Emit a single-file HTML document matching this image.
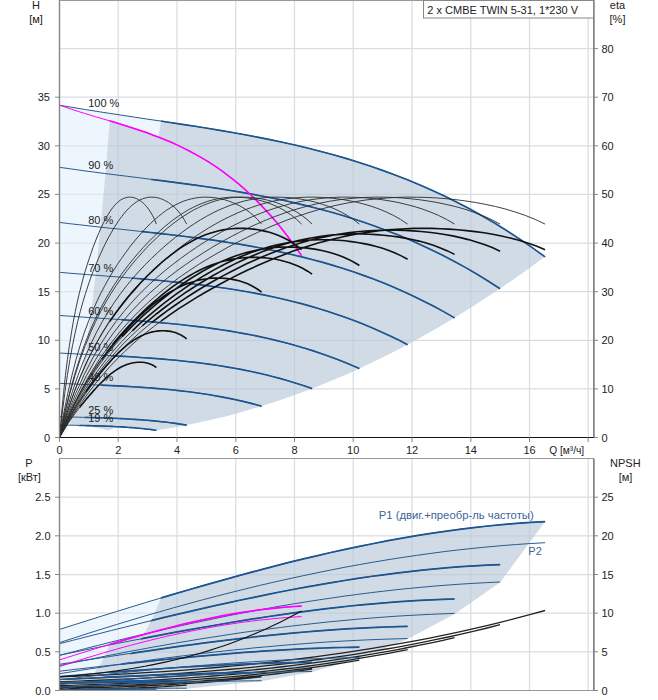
<!DOCTYPE html>
<html><head><meta charset="utf-8"><style>
html,body{margin:0;padding:0;background:#fff;width:658px;height:700px;overflow:hidden}
svg{display:block}
text{font-family:"Liberation Sans",sans-serif;font-size:11px;fill:#222}
</style></head><body>
<svg width="658" height="700" viewBox="0 0 658 700">
<path d="M118.2,0.5V437.5M118.2,458.5V690.5M177,0.5V437.5M177,458.5V690.5M235.8,0.5V437.5M235.8,458.5V690.5M294.5,0.5V437.5M294.5,458.5V690.5M353.2,0.5V437.5M353.2,458.5V690.5M412,0.5V437.5M412,458.5V690.5M470.8,0.5V437.5M470.8,458.5V690.5M529.5,0.5V437.5M529.5,458.5V690.5M588.2,0.5V437.5M588.2,458.5V690.5M59.5,388.9H593.5M59.5,340.3H593.5M59.5,291.7H593.5M59.5,243.1H593.5M59.5,194.4H593.5M59.5,145.8H593.5M59.5,97.2H593.5M59.5,48.6H593.5M59.5,651.8H593.5M59.5,613.2H593.5M59.5,574.5H593.5M59.5,535.8H593.5M59.5,497.2H593.5" stroke="#D9DDE0" stroke-width="1.25" fill="none"/>
<path d="M59.5,105.2 63.7,105.9 68,106.6 72.2,107.4 76.4,108.1 80.6,108.8 84.9,109.5 89.1,110.1 93.3,110.8 97.6,111.5 101.8,112.2 106,112.8 110.2,113.5 114.5,114.1 118.7,114.8 122.9,115.4 127.2,116 131.4,116.7 135.6,117.3 139.8,117.9 144.1,118.6 148.3,119.2 152.5,119.8 156.8,120.4 161,121.1 161,121.1 160.3,125.1 159.7,129.1 159,133.1 158.4,137.1 158.4,137.1 154.9,135.7 151.4,134.4 148,133.2 144.5,132 141,130.8 137.5,129.6 134.1,128.4 130.6,127.3 127.1,126.2 123.6,125.1 120.2,124.1 116.7,123 113.2,122 109.7,120.9 109.7,120.9 108,142.2 106.3,162.7 104.6,182.4 102.9,201.5 101.2,219.8 99.4,237.3 97.7,254.1 96,270.2 94.3,285.6 92.6,300.2 90.9,314 89.2,327.2 87.4,339.6 85.7,351.2 84,362.1 82.3,372.3 80.6,381.7 78.9,390.4 77.2,398.4 75.4,405.6 73.7,412.1 72,417.9 70.3,422.9 68.6,427.2 66.9,430.7 65.1,433.5 63.4,435.6 61.7,436.9 60,437.5Z" fill="rgba(222,236,251,0.55)"/>
<path d="M109.7,120.9 113.2,122 116.7,123 120.2,124.1 123.6,125.1 127.1,126.2 130.6,127.3 134.1,128.4 137.5,129.6 141,130.8 144.5,132 148,133.2 151.4,134.4 154.9,135.7 158.4,137.1 158.4,137.1 159,133.1 159.7,129.1 160.3,125.1 161,121.1 161,121.1 168.8,122.3 176.7,123.4 184.5,124.6 192.3,125.9 200.2,127.1 208,128.4 215.9,129.6 223.7,131 231.5,132.3 239.4,133.7 247.2,135.2 255.1,136.6 262.9,138.2 270.7,139.8 278.6,141.4 286.4,143.1 294.2,144.9 302.1,146.7 309.9,148.6 317.8,150.6 325.6,152.7 333.4,154.8 341.3,157 349.1,159.4 356.9,161.8 364.8,164.3 372.6,166.9 380.5,169.6 388.3,172.4 396.1,175.3 404,178.4 411.8,181.5 419.7,184.8 427.5,188.2 435.3,191.8 443.2,195.4 451,199.2 458.8,203.2 466.7,207.3 474.5,211.5 482.4,215.9 490.2,220.4 498,225.1 505.9,230 513.7,235 521.6,240.2 529.4,245.5 537.2,251.1 545.1,256.8 545.1,256.6 531.7,266.4 518.3,276 504.9,285.3 491.5,294.3 478.1,303.1 464.7,311.5 451.3,319.7 437.9,327.7 424.5,335.3 411.1,342.7 397.7,349.8 384.3,356.6 370.9,363.1 357.5,369.4 344.1,375.4 330.7,381.1 317.3,386.5 303.8,391.7 290.4,396.6 277,401.2 263.6,405.5 250.2,409.6 236.8,413.4 223.4,416.9 210,420.1 196.6,423.1 183.2,425.8 169.8,428.2 156.4,430.3 156.4,430.3 153,429.8 149.6,429.4 146.1,429 142.7,428.7 139.3,428.3 135.8,428 132.4,427.7 128.9,427.4 125.5,427.2 122.1,427 118.6,426.8 118.6,426.8 116,427.7 113.3,428.6 110.6,429.5 108,430.3 108,430.3 103.7,429.2 99.4,428.3 95.1,427.6 90.8,427 86.5,426.5 82.2,426.1 77.9,425.8 73.5,425.6 69.2,425.4 69.2,425.6 70.9,421.1 72.6,415.9 74.3,410 76,403.4 77.7,396 79.4,388 81.1,379.2 82.7,369.7 84.4,359.5 86.1,348.6 87.8,337 89.5,324.7 91.2,311.6 92.9,297.9 94.5,283.4 96.2,268.2 97.9,252.3 99.6,235.6 101.3,218.3 103,200.3 104.7,181.5 106.4,162 108,141.8 109.7,120.9Z" fill="rgba(184,200,217,0.66)"/>
<path d="M59.5,629.4 63.7,628 68,626.7 72.2,625.4 76.4,624 80.6,622.7 84.9,621.4 89.1,620 93.3,618.7 97.6,617.4 101.8,616.1 106,614.8 110.2,613.4 114.5,612.1 118.7,610.8 122.9,609.5 127.2,608.2 131.4,606.9 135.6,605.6 139.8,604.3 144.1,603.1 148.3,601.8 152.5,600.5 156.8,599.2 161,598 161,598 157.5,606.4 154.1,614.2 150.6,621.5 147.1,628.3 143.7,634.6 143.7,634.6 140.6,635.4 137.5,636.3 134.4,637.2 131.3,638 128.2,638.9 125.2,639.8 122.1,640.7 119,641.6 115.9,642.5 112.8,643.5 109.7,644.4 109.7,644.4 107.7,649.4 105.6,654 103.5,658.3 101.4,662.1 99.4,665.6 97.3,668.7 95.2,671.6 93.2,674.1 91.1,676.3 89,678.2 86.9,679.9 84.9,681.4 82.8,682.6 80.7,683.6 78.7,684.5 76.6,685.2 74.5,685.7 72.4,686.1 70.4,686.4 68.3,686.6 66.2,686.7 64.1,686.8 62.1,686.8 60,686.8 59.5,690.5Z" fill="rgba(222,236,251,0.55)"/>
<path d="M109.7,644.4 112.8,643.5 115.9,642.5 119,641.6 122.1,640.7 125.2,639.8 128.2,638.9 131.3,638 134.4,637.2 137.5,636.3 140.6,635.4 143.7,634.6 143.7,634.6 147.1,628.3 150.6,621.5 154.1,614.2 157.5,606.4 161,598 161,598 168.8,595.6 176.7,593.3 184.5,591 192.3,588.7 200.2,586.4 208,584.2 215.9,582 223.7,579.8 231.5,577.6 239.4,575.4 247.2,573.3 255.1,571.2 262.9,569.1 270.7,567.1 278.6,565.1 286.4,563.1 294.2,561.2 302.1,559.3 309.9,557.4 317.8,555.5 325.6,553.7 333.4,551.9 341.3,550.2 349.1,548.5 356.9,546.9 364.8,545.2 372.6,543.7 380.5,542.1 388.3,540.7 396.1,539.2 404,537.8 411.8,536.5 419.7,535.2 427.5,533.9 435.3,532.7 443.2,531.6 451,530.5 458.8,529.4 466.7,528.4 474.5,527.5 482.4,526.6 490.2,525.8 498,525 505.9,524.3 513.7,523.6 521.6,523 529.4,522.5 537.2,522 545.1,521.6 500.1,582.5 454.6,613.9 407.6,639 359.4,658 312.1,672 261.6,681.2 186.7,688.7 156.4,689.9 156.4,689.9 147.8,689.9 139.2,690 130.6,690 122,690.1 113.4,690.1 104.7,690.2 96.1,690.3 87.5,690.3 78.9,690.4 69.2,686.5 70.9,686.3 72.6,686.1 74.3,685.7 76,685.3 77.7,684.8 79.4,684.2 81.1,683.5 82.7,682.6 84.4,681.6 86.1,680.5 87.8,679.2 89.5,677.8 91.2,676.2 92.9,674.4 94.5,672.4 96.2,670.2 97.9,667.8 99.6,665.2 101.3,662.4 103,659.3 104.7,656 106.4,652.4 108,648.5 109.7,644.4Z" fill="rgba(184,200,217,0.66)"/>
<clipPath id="cA"><path d="M60.5,437.5 64.2,436.8 67.8,435.4 71.4,433.1 75.1,430 78.7,426.2 82.4,421.5 86,415.9 89.6,409.6 93.3,402.5 96.9,394.5 100.6,385.7 104.2,376.1 107.8,365.7 111.5,354.5 115.1,342.5 118.7,329.7 122.4,316 126,301.5 129.7,286.2 133.3,270.1 136.9,253.2 140.6,235.5 144.2,217 147.9,197.6 151.5,177.5 155.1,156.5 158.8,134.7 162.4,112.1 166.1,88.6 166.1,0 640,0 640,440 59.5,440Z"/><path d="M60.5,683.2 64.2,683.1 67.8,683.1 71.4,683 75.1,682.8 78.7,682.6 82.4,682.2 86,681.6 89.6,680.9 93.3,680 96.9,678.9 100.6,677.5 104.2,675.9 107.8,674 111.5,671.7 115.1,669.1 118.7,666.2 122.4,662.9 126,659.2 129.7,655 133.3,650.4 136.9,645.3 140.6,639.7 144.2,633.6 147.9,626.9 151.5,619.7 155.1,611.8 158.8,603.4 162.4,594.3 166.1,584.5 166.1,450 640,450 640,700 59.5,700Z"/></clipPath>
<clipPath id="cB"><path d="M60,437.5 61.8,436.8 63.6,435.4 65.4,433.1 67.2,430 69,426.2 70.8,421.4 72.6,415.9 74.4,409.6 76.2,402.4 78,394.5 79.8,385.7 81.6,376.1 83.4,365.7 85.2,354.5 87,342.5 88.8,329.6 90.6,315.9 92.4,301.5 94.2,286.2 96,270.1 97.8,253.1 99.6,235.4 101.4,216.9 103.2,197.5 105,177.3 106.8,156.3 108.6,134.5 110.4,111.9 112.2,88.5 112.2,0 640,0 640,440 59.5,440Z"/><path d="M60,686.8 61.8,686.8 63.6,686.8 65.4,686.8 67.2,686.7 69,686.5 70.8,686.3 72.6,686.1 74.4,685.7 76.2,685.3 78,684.7 79.8,684 81.6,683.2 83.4,682.2 85.2,681.1 87,679.8 88.8,678.4 90.6,676.7 92.4,674.9 94.2,672.8 96,670.5 97.8,668 99.6,665.2 101.4,662.1 103.2,658.8 105,655.2 106.8,651.3 108.6,647.1 110.4,642.6 112.2,637.7 112.2,450 640,450 640,700 59.5,700Z"/></clipPath>
<path d="M59.5,105.2 72,107.3 84.4,109.4 96.9,111.4 109.3,113.3 121.8,115.2 134.2,117.1 146.7,119 159.1,120.8 171.6,122.7 184,124.6 196.5,126.5 208.9,128.5 221.4,130.6 233.8,132.7 246.3,135 258.7,137.4 271.2,139.9 283.6,142.5 296.1,145.3 308.5,148.3 321,151.5 333.4,154.8 345.9,158.4 358.3,162.2 370.8,166.3 383.2,170.6 395.7,175.2 408.1,180.1 420.6,185.3 433,190.8 445.5,196.6 457.9,202.8 470.4,209.3 482.8,216.2 495.3,223.5 507.7,231.2 520.2,239.4 532.6,247.9 545.1,256.9M59.5,167.3 70.8,168.9 82.1,170.5 93.4,172 104.7,173.5 116,174.9 127.3,176.3 138.6,177.7 149.9,179.2 161.2,180.6 172.5,182.1 183.8,183.6 195.1,185.1 206.4,186.7 217.7,188.4 229,190.2 240.3,192.1 251.6,194.1 262.9,196.2 274.2,198.4 285.5,200.8 296.8,203.4 308.1,206.1 319.4,209 330.7,212 342,215.3 353.2,218.8 364.5,222.5 375.8,226.5 387.1,230.7 398.4,235.1 409.7,239.8 421,244.9 432.3,250.2 443.6,255.8 454.9,261.7 466.2,267.9 477.5,274.5 488.8,281.5 500.1,288.8M59.5,222.4 69.6,223.7 79.8,224.8 89.9,226 100,227.1 110.2,228.2 120.3,229.2 130.4,230.3 140.5,231.4 150.7,232.5 160.8,233.6 170.9,234.8 181.1,236 191.2,237.2 201.3,238.6 211.5,239.9 221.6,241.4 231.7,243 241.9,244.6 252,246.4 262.1,248.2 272.2,250.2 282.4,252.4 292.5,254.7 302.6,257.1 312.8,259.7 322.9,262.4 333,265.4 343.2,268.5 353.3,271.8 363.4,275.4 373.5,279.1 383.7,283.1 393.8,287.3 403.9,291.7 414.1,296.4 424.2,301.4 434.3,306.6 444.5,312.1 454.6,317.9M59.5,272.3 68.4,273.1 77.4,273.8 86.3,274.5 95.2,275.2 104.1,275.9 113.1,276.6 122,277.3 130.9,278 139.8,278.8 148.8,279.5 157.7,280.3 166.6,281.2 175.5,282.1 184.5,283 193.4,284 202.3,285.1 211.2,286.2 220.2,287.5 229.1,288.8 238,290.2 246.9,291.7 255.9,293.4 264.8,295.1 273.7,297 282.6,299 291.6,301.2 300.5,303.4 309.4,305.9 318.3,308.5 327.3,311.2 336.2,314.2 345.1,317.3 354,320.6 363,324.1 371.9,327.8 380.8,331.7 389.7,335.8 398.7,340.1 407.6,344.7M59.5,315.4 67.2,316 74.9,316.5 82.6,317.1 90.3,317.6 98,318.1 105.6,318.6 113.3,319.1 121,319.6 128.7,320.2 136.4,320.7 144.1,321.3 151.8,321.9 159.5,322.6 167.2,323.3 174.9,324 182.5,324.8 190.2,325.7 197.9,326.6 205.6,327.5 213.3,328.6 221,329.7 228.7,330.9 236.4,332.2 244.1,333.6 251.8,335 259.4,336.6 267.1,338.3 274.8,340.1 282.5,342 290.2,344 297.9,346.2 305.6,348.5 313.3,350.9 321,353.5 328.7,356.2 336.3,359 344,362.1 351.7,365.2 359.4,368.6M59.5,353 66,353.4 72.5,353.7 78.9,354.1 85.4,354.4 91.9,354.7 98.4,355.1 104.8,355.4 111.3,355.7 117.8,356.1 124.3,356.4 130.8,356.8 137.2,357.2 143.7,357.7 150.2,358.1 156.7,358.6 163.1,359.1 169.6,359.7 176.1,360.3 182.6,361 189.1,361.7 195.5,362.4 202,363.2 208.5,364.1 215,365 221.4,366 227.9,367.1 234.4,368.2 240.9,369.4 247.3,370.7 253.8,372 260.3,373.5 266.8,375 273.3,376.7 279.7,378.4 286.2,380.2 292.7,382.2 299.2,384.2 305.6,386.3 312.1,388.6M59.5,383.3 64.7,383.6 69.9,383.8 75,384 80.2,384.3 85.4,384.5 90.6,384.7 95.8,384.9 101,385.1 106.1,385.4 111.3,385.6 116.5,385.9 121.7,386.1 126.9,386.4 132,386.7 137.2,387 142.4,387.4 147.6,387.8 152.8,388.1 158,388.6 163.1,389 168.3,389.5 173.5,390 178.7,390.6 183.9,391.2 189.1,391.8 194.2,392.5 199.4,393.2 204.6,394 209.8,394.8 215,395.7 220.1,396.6 225.3,397.6 230.5,398.6 235.7,399.7 240.9,400.9 246.1,402.1 251.2,403.4 256.4,404.8 261.6,406.2M59.5,416.7 62.8,416.8 66,416.9 69.3,417 72.5,417.1 75.8,417.1 79.1,417.2 82.3,417.3 85.6,417.4 88.9,417.5 92.1,417.6 95.4,417.6 98.6,417.7 101.9,417.8 105.2,418 108.4,418.1 111.7,418.2 114.9,418.3 118.2,418.5 121.5,418.6 124.7,418.8 128,419 131.3,419.2 134.5,419.4 137.8,419.6 141,419.8 144.3,420.1 147.6,420.3 150.8,420.6 154.1,420.9 157.3,421.2 160.6,421.6 163.9,421.9 167.1,422.3 170.4,422.7 173.6,423.1 176.9,423.6 180.2,424.1 183.4,424.6 186.7,425.1M59.5,425 62,425 64.5,425.1 67,425.1 69.4,425.2 71.9,425.2 74.4,425.3 76.9,425.3 79.4,425.4 81.9,425.5 84.4,425.5 86.8,425.6 89.3,425.6 91.8,425.7 94.3,425.8 96.8,425.8 99.3,425.9 101.8,426 104.2,426.1 106.7,426.2 109.2,426.3 111.7,426.4 114.2,426.5 116.7,426.7 119.2,426.8 121.6,426.9 124.1,427.1 126.6,427.3 129.1,427.5 131.6,427.6 134.1,427.8 136.6,428.1 139,428.3 141.5,428.5 144,428.8 146.5,429.1 149,429.3 151.5,429.6 154,430 156.4,430.3" stroke="#2A5A8E" stroke-width="1" fill="none"/>
<path d="M59.5,105.2 72,107.3 84.4,109.4 96.9,111.4 109.3,113.3 121.8,115.2 134.2,117.1 146.7,119 159.1,120.8 171.6,122.7 184,124.6 196.5,126.5 208.9,128.5 221.4,130.6 233.8,132.7 246.3,135 258.7,137.4 271.2,139.9 283.6,142.5 296.1,145.3 308.5,148.3 321,151.5 333.4,154.8 345.9,158.4 358.3,162.2 370.8,166.3 383.2,170.6 395.7,175.2 408.1,180.1 420.6,185.3 433,190.8 445.5,196.6 457.9,202.8 470.4,209.3 482.8,216.2 495.3,223.5 507.7,231.2 520.2,239.4 532.6,247.9 545.1,256.9M59.5,167.3 70.8,168.9 82.1,170.5 93.4,172 104.7,173.5 116,174.9 127.3,176.3 138.6,177.7 149.9,179.2 161.2,180.6 172.5,182.1 183.8,183.6 195.1,185.1 206.4,186.7 217.7,188.4 229,190.2 240.3,192.1 251.6,194.1 262.9,196.2 274.2,198.4 285.5,200.8 296.8,203.4 308.1,206.1 319.4,209 330.7,212 342,215.3 353.2,218.8 364.5,222.5 375.8,226.5 387.1,230.7 398.4,235.1 409.7,239.8 421,244.9 432.3,250.2 443.6,255.8 454.9,261.7 466.2,267.9 477.5,274.5 488.8,281.5 500.1,288.8M59.5,222.4 69.6,223.7 79.8,224.8 89.9,226 100,227.1 110.2,228.2 120.3,229.2 130.4,230.3 140.5,231.4 150.7,232.5 160.8,233.6 170.9,234.8 181.1,236 191.2,237.2 201.3,238.6 211.5,239.9 221.6,241.4 231.7,243 241.9,244.6 252,246.4 262.1,248.2 272.2,250.2 282.4,252.4 292.5,254.7 302.6,257.1 312.8,259.7 322.9,262.4 333,265.4 343.2,268.5 353.3,271.8 363.4,275.4 373.5,279.1 383.7,283.1 393.8,287.3 403.9,291.7 414.1,296.4 424.2,301.4 434.3,306.6 444.5,312.1 454.6,317.9M59.5,272.3 68.4,273.1 77.4,273.8 86.3,274.5 95.2,275.2 104.1,275.9 113.1,276.6 122,277.3 130.9,278 139.8,278.8 148.8,279.5 157.7,280.3 166.6,281.2 175.5,282.1 184.5,283 193.4,284 202.3,285.1 211.2,286.2 220.2,287.5 229.1,288.8 238,290.2 246.9,291.7 255.9,293.4 264.8,295.1 273.7,297 282.6,299 291.6,301.2 300.5,303.4 309.4,305.9 318.3,308.5 327.3,311.2 336.2,314.2 345.1,317.3 354,320.6 363,324.1 371.9,327.8 380.8,331.7 389.7,335.8 398.7,340.1 407.6,344.7M59.5,315.4 67.2,316 74.9,316.5 82.6,317.1 90.3,317.6 98,318.1 105.6,318.6 113.3,319.1 121,319.6 128.7,320.2 136.4,320.7 144.1,321.3 151.8,321.9 159.5,322.6 167.2,323.3 174.9,324 182.5,324.8 190.2,325.7 197.9,326.6 205.6,327.5 213.3,328.6 221,329.7 228.7,330.9 236.4,332.2 244.1,333.6 251.8,335 259.4,336.6 267.1,338.3 274.8,340.1 282.5,342 290.2,344 297.9,346.2 305.6,348.5 313.3,350.9 321,353.5 328.7,356.2 336.3,359 344,362.1 351.7,365.2 359.4,368.6M59.5,353 66,353.4 72.5,353.7 78.9,354.1 85.4,354.4 91.9,354.7 98.4,355.1 104.8,355.4 111.3,355.7 117.8,356.1 124.3,356.4 130.8,356.8 137.2,357.2 143.7,357.7 150.2,358.1 156.7,358.6 163.1,359.1 169.6,359.7 176.1,360.3 182.6,361 189.1,361.7 195.5,362.4 202,363.2 208.5,364.1 215,365 221.4,366 227.9,367.1 234.4,368.2 240.9,369.4 247.3,370.7 253.8,372 260.3,373.5 266.8,375 273.3,376.7 279.7,378.4 286.2,380.2 292.7,382.2 299.2,384.2 305.6,386.3 312.1,388.6M59.5,383.3 64.7,383.6 69.9,383.8 75,384 80.2,384.3 85.4,384.5 90.6,384.7 95.8,384.9 101,385.1 106.1,385.4 111.3,385.6 116.5,385.9 121.7,386.1 126.9,386.4 132,386.7 137.2,387 142.4,387.4 147.6,387.8 152.8,388.1 158,388.6 163.1,389 168.3,389.5 173.5,390 178.7,390.6 183.9,391.2 189.1,391.8 194.2,392.5 199.4,393.2 204.6,394 209.8,394.8 215,395.7 220.1,396.6 225.3,397.6 230.5,398.6 235.7,399.7 240.9,400.9 246.1,402.1 251.2,403.4 256.4,404.8 261.6,406.2M59.5,416.7 62.8,416.8 66,416.9 69.3,417 72.5,417.1 75.8,417.1 79.1,417.2 82.3,417.3 85.6,417.4 88.9,417.5 92.1,417.6 95.4,417.6 98.6,417.7 101.9,417.8 105.2,418 108.4,418.1 111.7,418.2 114.9,418.3 118.2,418.5 121.5,418.6 124.7,418.8 128,419 131.3,419.2 134.5,419.4 137.8,419.6 141,419.8 144.3,420.1 147.6,420.3 150.8,420.6 154.1,420.9 157.3,421.2 160.6,421.6 163.9,421.9 167.1,422.3 170.4,422.7 173.6,423.1 176.9,423.6 180.2,424.1 183.4,424.6 186.7,425.1M59.5,425 62,425 64.5,425.1 67,425.1 69.4,425.2 71.9,425.2 74.4,425.3 76.9,425.3 79.4,425.4 81.9,425.5 84.4,425.5 86.8,425.6 89.3,425.6 91.8,425.7 94.3,425.8 96.8,425.8 99.3,425.9 101.8,426 104.2,426.1 106.7,426.2 109.2,426.3 111.7,426.4 114.2,426.5 116.7,426.7 119.2,426.8 121.6,426.9 124.1,427.1 126.6,427.3 129.1,427.5 131.6,427.6 134.1,427.8 136.6,428.1 139,428.3 141.5,428.5 144,428.8 146.5,429.1 149,429.3 151.5,429.6 154,430 156.4,430.3" stroke="#1D5590" stroke-width="1.65" fill="none" clip-path="url(#cA)"/>
<path d="M59.5,105.2 65.7,107.3 71.9,109.4 78.1,111.4 84.3,113.3 90.5,115.2 96.7,117.1 102.9,118.9 109.2,120.7 115.4,122.6 121.6,124.5 127.8,126.4 134,128.4 140.2,130.5 146.4,132.6 152.6,134.9 158.8,137.2 165,139.7 171.2,142.3 177.4,145.1 183.6,148.1 189.8,151.2 196,154.6 202.2,158.1 208.5,161.9 214.7,165.9 220.9,170.2 227.1,174.8 233.3,179.6 239.5,184.7 245.7,190.2 251.9,196 258.1,202.1 264.3,208.6 270.5,215.4 276.7,222.6 282.9,230.3 289.1,238.3 295.3,246.8 301.6,255.7" stroke="#FF00FF" stroke-width="1" fill="none"/>
<path d="M59.5,105.2 65.7,107.3 71.9,109.4 78.1,111.4 84.3,113.3 90.5,115.2 96.7,117.1 102.9,118.9 109.2,120.7 115.4,122.6 121.6,124.5 127.8,126.4 134,128.4 140.2,130.5 146.4,132.6 152.6,134.9 158.8,137.2 165,139.7 171.2,142.3 177.4,145.1 183.6,148.1 189.8,151.2 196,154.6 202.2,158.1 208.5,161.9 214.7,165.9 220.9,170.2 227.1,174.8 233.3,179.6 239.5,184.7 245.7,190.2 251.9,196 258.1,202.1 264.3,208.6 270.5,215.4 276.7,222.6 282.9,230.3 289.1,238.3 295.3,246.8 301.6,255.7" stroke="#FF00FF" stroke-width="1.6" fill="none" clip-path="url(#cB)"/>
<path d="M59.5,437.5 69.4,414.1 79.3,393.7 89.2,375.6 99.1,359.7 109,345.6 119,332.9 128.9,321.6 138.8,311.4 148.7,302 158.6,293.4 168.5,285.5 178.4,278.1 188.3,271.2 198.2,264.7 208.1,258.6 218.1,252.8 228,247.2 237.9,242 247.8,237 257.7,232.4 267.6,227.9 277.5,223.8 287.4,219.9 297.3,216.4 307.2,213.1 317.1,210.1 327.1,207.5 337,205.1 346.9,203.1 356.8,201.3 366.7,199.9 376.6,198.8 386.5,198 396.4,197.4 406.3,197.1 416.2,197.2 426.2,197.4 436.1,197.9 446,198.7 455.9,199.7 465.8,201 475.7,202.5 485.6,204.4 495.5,206.5 505.4,209 515.3,212 525.2,215.4 535.2,219.4 545.1,224.1M59.5,437.5 68.5,414.1 77.5,393.7 86.5,375.6 95.5,359.7 104.5,345.6 113.5,332.9 122.4,321.6 131.4,311.4 140.4,302 149.4,293.4 158.4,285.5 167.4,278.1 176.4,271.2 185.4,264.7 194.4,258.6 203.4,252.8 212.4,247.2 221.4,242 230.4,237 239.3,232.4 248.3,227.9 257.3,223.8 266.3,219.9 275.3,216.4 284.3,213.1 293.3,210.1 302.3,207.5 311.3,205.1 320.3,203.1 329.3,201.3 338.3,199.9 347.3,198.8 356.2,198 365.2,197.4 374.2,197.1 383.2,197.2 392.2,197.4 401.2,197.9 410.2,198.7 419.2,199.7 428.2,201 437.2,202.5 446.2,204.4 455.2,206.5 464.2,209 473.1,212 482.1,215.4 491.1,219.4 500.1,224.1M59.5,437.5 67.6,414.1 75.6,393.7 83.7,375.6 91.8,359.7 99.8,345.6 107.9,332.9 115.9,321.6 124,311.4 132.1,302 140.1,293.4 148.2,285.5 156.3,278.1 164.3,271.2 172.4,264.7 180.4,258.6 188.5,252.8 196.6,247.2 204.6,242 212.7,237 220.8,232.4 228.8,227.9 236.9,223.8 245,219.9 253,216.4 261.1,213.1 269.1,210.1 277.2,207.5 285.3,205.1 293.3,203.1 301.4,201.3 309.5,199.9 317.5,198.8 325.6,198 333.6,197.4 341.7,197.1 349.8,197.2 357.8,197.4 365.9,197.9 374,198.7 382,199.7 390.1,201 398.2,202.5 406.2,204.4 414.3,206.5 422.3,209 430.4,212 438.5,215.4 446.5,219.4 454.6,224.1M59.5,437.5 66.6,414.1 73.7,393.7 80.8,375.6 87.9,359.7 95,345.6 102.1,332.9 109.2,321.6 116.3,311.4 123.4,302 130.5,293.4 137.6,285.5 144.7,278.1 151.9,271.2 159,264.7 166.1,258.6 173.2,252.8 180.3,247.2 187.4,242 194.5,237 201.6,232.4 208.7,227.9 215.8,223.8 222.9,219.9 230,216.4 237.1,213.1 244.2,210.1 251.3,207.5 258.4,205.1 265.5,203.1 272.6,201.3 279.7,199.9 286.8,198.8 293.9,198 301,197.4 308.1,197.1 315.2,197.2 322.3,197.4 329.5,197.9 336.6,198.7 343.7,199.7 350.8,201 357.9,202.5 365,204.4 372.1,206.5 379.2,209 386.3,212 393.4,215.4 400.5,219.4 407.6,224.1M59.5,437.5 65.6,414.1 71.7,393.7 77.9,375.6 84,359.7 90.1,345.6 96.2,332.9 102.3,321.6 108.5,311.4 114.6,302 120.7,293.4 126.8,285.5 132.9,278.1 139.1,271.2 145.2,264.7 151.3,258.6 157.4,252.8 163.6,247.2 169.7,242 175.8,237 181.9,232.4 188,227.9 194.2,223.8 200.3,219.9 206.4,216.4 212.5,213.1 218.6,210.1 224.8,207.5 230.9,205.1 237,203.1 243.1,201.3 249.2,199.9 255.4,198.8 261.5,198 267.6,197.4 273.7,197.1 279.8,197.2 286,197.4 292.1,197.9 298.2,198.7 304.3,199.7 310.5,201 316.6,202.5 322.7,204.4 328.8,206.5 334.9,209 341.1,212 347.2,215.4 353.3,219.4 359.4,224.1M59.5,437.5 64.7,414.1 69.8,393.7 75,375.6 80.1,359.7 85.3,345.6 90.4,332.9 95.6,321.6 100.7,311.4 105.9,302 111.1,293.4 116.2,285.5 121.4,278.1 126.5,271.2 131.7,264.7 136.8,258.6 142,252.8 147.1,247.2 152.3,242 157.5,237 162.6,232.4 167.8,227.9 172.9,223.8 178.1,219.9 183.2,216.4 188.4,213.1 193.5,210.1 198.7,207.5 203.9,205.1 209,203.1 214.2,201.3 219.3,199.9 224.5,198.8 229.6,198 234.8,197.4 239.9,197.1 245.1,197.2 250.3,197.4 255.4,197.9 260.6,198.7 265.7,199.7 270.9,201 276,202.5 281.2,204.4 286.3,206.5 291.5,209 296.7,212 301.8,215.4 307,219.4 312.1,224.1M59.5,437.5 63.6,414.1 67.7,393.7 71.9,375.6 76,359.7 80.1,345.6 84.2,332.9 88.4,321.6 92.5,311.4 96.6,302 100.7,293.4 104.9,285.5 109,278.1 113.1,271.2 117.2,264.7 121.4,258.6 125.5,252.8 129.6,247.2 133.7,242 137.9,237 142,232.4 146.1,227.9 150.2,223.8 154.4,219.9 158.5,216.4 162.6,213.1 166.7,210.1 170.9,207.5 175,205.1 179.1,203.1 183.2,201.3 187.4,199.9 191.5,198.8 195.6,198 199.7,197.4 203.9,197.1 208,197.2 212.1,197.4 216.2,197.9 220.4,198.7 224.5,199.7 228.6,201 232.7,202.5 236.9,204.4 241,206.5 245.1,209 249.2,212 253.4,215.4 257.5,219.4 261.6,224.1M59.5,437.5 62.1,414.1 64.7,393.7 67.3,375.6 69.9,359.7 72.5,345.6 75.1,332.9 77.7,321.6 80.3,311.4 82.9,302 85.5,293.4 88.1,285.5 90.6,278.1 93.2,271.2 95.8,264.7 98.4,258.6 101,252.8 103.6,247.2 106.2,242 108.8,237 111.4,232.4 114,227.9 116.6,223.8 119.2,219.9 121.8,216.4 124.4,213.1 127,210.1 129.6,207.5 132.2,205.1 134.8,203.1 137.4,201.3 140,199.9 142.6,198.8 145.2,198 147.8,197.4 150.4,197.1 152.9,197.2 155.5,197.4 158.1,197.9 160.7,198.7 163.3,199.7 165.9,201 168.5,202.5 171.1,204.4 173.7,206.5 176.3,209 178.9,212 181.5,215.4 184.1,219.4 186.7,224.1M59.5,437.5 61.5,414.1 63.5,393.7 65.4,375.6 67.4,359.7 69.4,345.6 71.4,332.9 73.3,321.6 75.3,311.4 77.3,302 79.3,293.4 81.3,285.5 83.2,278.1 85.2,271.2 87.2,264.7 89.2,258.6 91.2,252.8 93.1,247.2 95.1,242 97.1,237 99.1,232.4 101,227.9 103,223.8 105,219.9 107,216.4 109,213.1 110.9,210.1 112.9,207.5 114.9,205.1 116.9,203.1 118.8,201.3 120.8,199.9 122.8,198.8 124.8,198 126.8,197.4 128.7,197.1 130.7,197.2 132.7,197.4 134.7,197.9 136.7,198.7 138.6,199.7 140.6,201 142.6,202.5 144.6,204.4 146.5,206.5 148.5,209 150.5,212 152.5,215.4 154.5,219.4 156.4,224.1M59.5,437.5 64.4,414.1 69.4,393.7 74.3,375.6 79.3,359.7 84.2,345.6 89.1,332.9 94.1,321.6 99,311.4 104,302 108.9,293.4 113.8,285.5 118.8,278.1 123.7,271.2 128.7,264.7 133.6,258.6 138.5,252.8 143.5,247.2 148.4,242 153.4,237 158.3,232.4 163.2,227.9 168.2,223.8 173.1,219.9 178.1,216.4 183,213.1 187.9,210.1 192.9,207.5 197.8,205.1 202.8,203.1 207.7,201.3 212.6,199.9 217.6,198.8 222.5,198 227.5,197.4 232.4,197.1 237.3,197.2 242.3,197.4 247.2,197.9 252.2,198.7 257.1,199.7 262,201 267,202.5 271.9,204.4 276.9,206.5 281.8,209 286.7,212 291.7,215.4 296.6,219.4 301.6,224.1M59.5,437.5 66.7,425.1 74,413.5 81.2,402.7 88.5,392.7 95.7,383.3 103,374.5 110.2,366.3 117.5,358.7 124.7,351.5 132,344.7 139.2,338.3 146.5,332.3 153.7,326.6 161,321.1M59.5,437.5 66.1,425.3 72.7,414 79.2,403.3 85.8,393.4 92.4,384.2 99,375.5 105.5,367.5 112.1,359.9 118.7,352.8 125.3,346.1 131.9,339.8 138.4,333.8 145,328.1 151.6,322.7M59.5,437.5 65.4,425.8 71.3,414.9 77.2,404.6 83.1,395 89,386.1 94.9,377.7 100.8,369.8 106.7,362.4 112.6,355.5 118.5,348.9 124.4,342.7 130.3,336.9 136.2,331.3 142.1,326M59.5,437.5 64.7,426.5 69.9,416.2 75.1,406.5 80.3,397.4 85.5,388.8 90.7,380.8 95.9,373.3 101.1,366.2 106.3,359.5 111.5,353.1 116.7,347.1 121.9,341.4 127.1,336 132.3,330.8M59.5,437.5 64,427.3 68.5,417.7 72.9,408.7 77.4,400.1 81.9,392.1 86.4,384.5 90.8,377.4 95.3,370.6 99.8,364.2 104.3,358.2 108.8,352.4 113.2,347 117.7,341.8 122.2,336.8M59.5,437.5 63.3,428.4 67,419.7 70.8,411.5 74.6,403.7 78.4,396.3 82.1,389.4 85.9,382.8 89.7,376.5 93.4,370.6 97.2,364.9 101,359.5 104.8,354.4 108.5,349.4 112.3,344.7M59.5,437.5 62.5,430.2 65.5,423.2 68.6,416.5 71.6,410.1 74.6,403.9 77.6,398.1 80.6,392.5 83.6,387.2 86.7,382.1 89.7,377.3 92.7,372.6 95.7,368.1 98.7,363.8 101.7,359.6M59.5,437.5 61.4,433.6 63.3,429.7 65.2,426 67.1,422.4 69,418.8 70.9,415.4 72.8,412.1 74.7,408.9 76.6,405.8 78.5,402.8 80.4,399.9 82.3,397 84.2,394.2 86.1,391.5M59.5,437.5 60.9,435 62.4,432.6 63.8,430.2 65.3,427.9 66.7,425.6 68.2,423.3 69.6,421.2 71.1,419 72.5,417 74,414.9 75.4,413 76.9,411 78.3,409.1 79.8,407.2M59.5,437.5 63.1,425.2 66.7,413.7 70.3,402.9 73.9,392.9 77.4,383.6 81,374.9 84.6,366.7 88.2,359.1 91.8,351.9 95.4,345.2 99,338.8 102.6,332.8 106.1,327.1 109.7,321.6" stroke="#2a2a2a" stroke-width="0.9" fill="none"/>
<path d="M161,321.1 169.7,314.9 178.4,308.9 187.2,303.3 195.9,297.9 204.6,292.7 213.4,287.8 222.1,283 230.8,278.4 239.5,274 248.3,269.8 257,265.8 265.7,262 274.5,258.3 283.2,254.9 291.9,251.6 300.7,248.6 309.4,245.7 318.1,243.1 326.8,240.7 335.6,238.5 344.3,236.5 353,234.7 361.8,233.2 370.5,231.9 379.2,230.8 387.9,229.9 396.7,229.2 405.4,228.7 414.1,228.4 422.9,228.3 431.6,228.4 440.3,228.7 449,229.1 457.8,229.8 466.5,230.6 475.2,231.6 484,232.8 492.7,234.3 501.4,236 510.2,238 518.9,240.3 527.6,243 536.3,246.1 545.1,249.7M151.6,322.7 159.5,316.5 167.4,310.6 175.4,305 183.3,299.6 191.2,294.5 199.1,289.5 207,284.8 215,280.2 222.9,275.9 230.8,271.7 238.7,267.7 246.6,263.8 254.6,260.2 262.5,256.7 270.4,253.5 278.3,250.4 286.3,247.6 294.2,244.9 302.1,242.5 310,240.3 317.9,238.3 325.9,236.6 333.8,235 341.7,233.7 349.6,232.6 357.5,231.7 365.5,231 373.4,230.5 381.3,230.2 389.2,230.1 397.1,230.2 405.1,230.4 413,230.9 420.9,231.5 428.8,232.3 436.8,233.3 444.7,234.5 452.6,235.9 460.5,237.6 468.4,239.6 476.4,241.9 484.3,244.5 492.2,247.6 500.1,251.2M142.1,326 149.2,319.8 156.3,314 163.4,308.5 170.5,303.2 177.6,298.1 184.7,293.2 191.8,288.5 198.9,284 206,279.7 213.1,275.5 220.2,271.6 227.3,267.7 234.4,264.1 241.5,260.7 248.6,257.5 255.7,254.4 262.8,251.6 269.9,248.9 277,246.5 284.1,244.3 291.2,242.3 298.3,240.6 305.4,239 312.5,237.7 319.6,236.5 326.7,235.6 333.8,234.9 341,234.4 348.1,234.1 355.2,233.9 362.3,234 369.4,234.2 376.5,234.6 383.6,235.2 390.7,236 397.8,236.9 404.9,238.1 412,239.5 419.1,241.1 426.2,243 433.3,245.3 440.4,247.9 447.5,250.9 454.6,254.4M132.3,330.8 138.5,324.9 144.8,319.2 151,313.8 157.3,308.6 163.5,303.6 169.8,298.8 176.1,294.2 182.3,289.8 188.6,285.5 194.8,281.4 201.1,277.4 207.3,273.7 213.6,270.1 219.9,266.7 226.1,263.5 232.4,260.5 238.6,257.6 244.9,255 251.1,252.6 257.4,250.4 263.7,248.4 269.9,246.6 276.2,245.1 282.4,243.7 288.7,242.6 295,241.6 301.2,240.9 307.5,240.3 313.7,239.9 320,239.8 326.2,239.8 332.5,239.9 338.8,240.3 345,240.8 351.3,241.6 357.5,242.5 363.8,243.6 370,244.9 376.3,246.5 382.6,248.3 388.8,250.5 395.1,253 401.3,255.9 407.6,259.3M122.2,336.8 127.6,331 133,325.5 138.4,320.2 143.7,315.2 149.1,310.3 154.5,305.7 159.9,301.1 165.3,296.8 170.7,292.6 176.1,288.6 181.5,284.7 186.9,281 192.3,277.5 197.7,274.2 203.1,271 208.5,268 213.8,265.2 219.2,262.6 224.6,260.2 230,258 235.4,256 240.8,254.2 246.2,252.6 251.6,251.3 257,250.1 262.4,249.1 267.8,248.3 273.2,247.7 278.5,247.3 283.9,247.1 289.3,247 294.7,247.2 300.1,247.5 305.5,247.9 310.9,248.6 316.3,249.4 321.7,250.5 327.1,251.7 332.5,253.2 337.9,255 343.2,257 348.6,259.4 354,262.2 359.4,265.5M112.3,344.7 116.8,339.2 121.4,334 125.9,329 130.5,324.1 135,319.5 139.5,315 144.1,310.6 148.6,306.4 153.2,302.4 157.7,298.5 162.3,294.7 166.8,291.2 171.3,287.7 175.9,284.4 180.4,281.3 185,278.4 189.5,275.7 194,273.1 198.6,270.7 203.1,268.6 207.7,266.6 212.2,264.8 216.8,263.2 221.3,261.8 225.8,260.6 230.4,259.6 234.9,258.8 239.5,258.2 244,257.7 248.5,257.4 253.1,257.3 257.6,257.4 262.2,257.6 266.7,258 271.3,258.5 275.8,259.3 280.3,260.2 284.9,261.4 289.4,262.7 294,264.4 298.5,266.3 303,268.5 307.6,271.2 312.1,274.2M101.7,359.6 105.4,354.8 109,350.1 112.6,345.6 116.3,341.2 119.9,337 123.5,332.9 127.2,329 130.8,325.1 134.4,321.4 138.1,317.8 141.7,314.3 145.3,311 149,307.8 152.6,304.7 156.2,301.8 159.9,299.1 163.5,296.5 167.1,294 170.8,291.8 174.4,289.7 178,287.8 181.7,286 185.3,284.5 188.9,283.1 192.6,281.9 196.2,280.8 199.8,279.9 203.5,279.2 207.1,278.7 210.7,278.3 214.4,278.1 218,278 221.6,278.1 225.3,278.4 228.9,278.8 232.5,279.4 236.2,280.1 239.8,281 243.4,282.2 247.1,283.6 250.7,285.2 254.3,287.2 258,289.5 261.6,292.2M86.1,391.5 88.4,388.3 90.7,385.2 92.9,382.2 95.2,379.2 97.5,376.3 99.8,373.4 102.1,370.6 104.4,367.9 106.7,365.3 108.9,362.7 111.2,360.2 113.5,357.7 115.8,355.4 118.1,353.1 120.4,350.9 122.7,348.8 125,346.8 127.2,344.9 129.5,343.1 131.8,341.5 134.1,339.9 136.4,338.5 138.7,337.2 141,336 143.2,335 145.5,334 147.8,333.2 150.1,332.5 152.4,331.9 154.7,331.5 157,331.1 159.3,330.9 161.5,330.7 163.8,330.7 166.1,330.9 168.4,331.1 170.7,331.4 173,331.9 175.3,332.6 177.5,333.4 179.8,334.4 182.1,335.7 184.4,337.1 186.7,338.9M79.8,407.2 81.5,405 83.2,402.9 85,400.7 86.7,398.6 88.5,396.6 90.2,394.6 92,392.6 93.7,390.6 95.4,388.7 97.2,386.8 98.9,385 100.7,383.2 102.4,381.5 104.2,379.8 105.9,378.2 107.6,376.6 109.4,375.1 111.1,373.7 112.9,372.3 114.6,371.1 116.4,369.9 118.1,368.8 119.8,367.8 121.6,366.8 123.3,366 125.1,365.2 126.8,364.5 128.6,364 130.3,363.5 132,363 133.8,362.7 135.5,362.5 137.3,362.3 139,362.2 140.8,362.2 142.5,362.3 144.2,362.5 146,362.8 147.7,363.2 149.5,363.8 151.2,364.4 153,365.3 154.7,366.3 156.4,367.5M109.7,321.6 114.1,315.4 118.5,309.4 122.8,303.7 127.2,298.3 131.5,293.1 135.9,288.1 140.2,283.3 144.6,278.7 149,274.3 153.3,270.1 157.7,266.1 162,262.2 166.4,258.5 170.8,255.1 175.1,251.8 179.5,248.7 183.8,245.8 188.2,243.2 192.6,240.8 196.9,238.5 201.3,236.6 205.6,234.8 210,233.2 214.4,231.9 218.7,230.8 223.1,229.9 227.4,229.2 231.8,228.7 236.2,228.4 240.5,228.3 244.9,228.4 249.2,228.7 253.6,229.1 258,229.7 262.3,230.6 266.7,231.6 271,232.8 275.4,234.3 279.8,236 284.1,238 288.5,240.3 292.8,243 297.2,246.1 301.6,249.7" stroke="#111" stroke-width="1.6" fill="none"/>
<path d="M59.5,676.9 73.8,676.3 88.1,675.7 102.3,675 116.6,674.3 130.9,673.6 145.2,672.7 159.5,671.8 173.8,670.8 188,669.8 202.3,668.7 216.6,667.5 230.9,666.2 245.2,664.8 259.4,663.4 273.7,661.8 288,660.2 302.3,658.5 316.6,656.6 330.8,654.7 345.1,652.6 359.4,650.4 373.7,648.1 388,645.7 402.3,643.2 416.5,640.6 430.8,637.8 445.1,634.9 459.4,631.8 473.7,628.6 487.9,625.3 502.2,621.8 516.5,618.2 530.8,614.4 545.1,610.5M59.5,679.4 72.5,679 85.4,678.5 98.4,677.9 111.3,677.3 124.3,676.7 137.3,676 150.2,675.3 163.2,674.5 176.1,673.6 189.1,672.7 202.1,671.7 215,670.7 228,669.5 240.9,668.3 253.9,667.1 266.9,665.7 279.8,664.3 292.8,662.8 305.7,661.2 318.7,659.5 331.7,657.7 344.6,655.8 357.6,653.8 370.5,651.7 383.5,649.5 396.4,647.3 409.4,644.8 422.4,642.3 435.3,639.7 448.3,637 461.2,634.1 474.2,631.1 487.2,628 500.1,624.7M59.5,681.7 71.1,681.3 82.7,680.9 94.4,680.5 106,680 117.6,679.5 129.2,679 140.8,678.4 152.5,677.7 164.1,677 175.7,676.3 187.3,675.5 198.9,674.7 210.6,673.8 222.2,672.8 233.8,671.8 245.4,670.7 257,669.5 268.7,668.3 280.3,667 291.9,665.7 303.5,664.2 315.1,662.7 326.8,661.1 338.4,659.4 350,657.7 361.6,655.8 373.3,653.9 384.9,651.9 396.5,649.8 408.1,647.5 419.7,645.2 431.4,642.8 443,640.3 454.6,637.7M59.5,683.7 69.7,683.4 80,683.1 90.2,682.8 100.5,682.4 110.7,682 120.9,681.6 131.2,681.2 141.4,680.7 151.6,680.1 161.9,679.6 172.1,678.9 182.4,678.3 192.6,677.6 202.8,676.8 213.1,676 223.3,675.2 233.5,674.3 243.8,673.4 254,672.4 264.3,671.3 274.5,670.2 284.7,669 295,667.8 305.2,666.5 315.5,665.1 325.7,663.7 335.9,662.2 346.2,660.6 356.4,658.9 366.6,657.2 376.9,655.4 387.1,653.6 397.4,651.6 407.6,649.6M59.5,685.5 68.3,685.3 77.1,685.1 86,684.8 94.8,684.5 103.6,684.2 112.4,683.9 121.2,683.6 130.1,683.2 138.9,682.8 147.7,682.4 156.5,682 165.4,681.5 174.2,680.9 183,680.4 191.8,679.8 200.6,679.2 209.5,678.5 218.3,677.8 227.1,677.1 235.9,676.3 244.7,675.5 253.6,674.6 262.4,673.7 271.2,672.7 280,671.7 288.8,670.6 297.7,669.5 306.5,668.3 315.3,667.1 324.1,665.8 333,664.5 341.8,663.1 350.6,661.7 359.4,660.1M59.5,687 66.9,686.9 74.4,686.7 81.8,686.6 89.2,686.4 96.7,686.2 104.1,685.9 111.5,685.7 118.9,685.4 126.4,685.2 133.8,684.9 141.2,684.5 148.7,684.2 156.1,683.8 163.5,683.4 171,683 178.4,682.6 185.8,682.1 193.2,681.6 200.7,681.1 208.1,680.5 215.5,679.9 223,679.3 230.4,678.7 237.8,678 245.3,677.2 252.7,676.5 260.1,675.7 267.5,674.9 275,674 282.4,673.1 289.8,672.1 297.3,671.1 304.7,670.1 312.1,669M59.5,688.3 65.4,688.2 71.4,688.1 77.3,688 83.3,687.8 89.2,687.7 95.2,687.6 101.1,687.4 107.1,687.3 113,687.1 118.9,686.9 124.9,686.7 130.8,686.5 136.8,686.2 142.7,686 148.7,685.7 154.6,685.4 160.6,685.1 166.5,684.8 172.4,684.5 178.4,684.1 184.3,683.7 190.3,683.3 196.2,682.9 202.2,682.5 208.1,682 214,681.5 220,681 225.9,680.5 231.9,679.9 237.8,679.3 243.8,678.7 249.7,678.1 255.7,677.4 261.6,676.8M59.5,689.6 63.2,689.6 67,689.6 70.7,689.5 74.5,689.5 78.2,689.4 81.9,689.4 85.7,689.3 89.4,689.2 93.2,689.2 96.9,689.1 100.7,689 104.4,688.9 108.1,688.8 111.9,688.7 115.6,688.6 119.4,688.5 123.1,688.4 126.8,688.3 130.6,688.1 134.3,688 138.1,687.9 141.8,687.7 145.5,687.5 149.3,687.4 153,687.2 156.8,687 160.5,686.8 164.2,686.6 168,686.3 171.7,686.1 175.5,685.9 179.2,685.6 183,685.4 186.7,685.1M59.5,690 62.4,690 65.2,689.9 68.1,689.9 70.9,689.9 73.8,689.9 76.6,689.8 79.5,689.8 82.3,689.8 85.2,689.7 88,689.7 90.9,689.6 93.7,689.6 96.6,689.5 99.4,689.5 102.3,689.4 105.1,689.3 108,689.3 110.8,689.2 113.7,689.1 116.5,689 119.4,688.9 122.2,688.8 125.1,688.8 127.9,688.7 130.8,688.5 133.6,688.4 136.5,688.3 139.3,688.2 142.2,688.1 145,687.9 147.9,687.8 150.7,687.6 153.6,687.5 156.4,687.3" stroke="#222" stroke-width="1.3" fill="none"/>
<path d="M59.5,629.4 73.8,624.9 88.1,620.4 102.3,615.9 116.6,611.5 130.9,607.1 145.2,602.7 159.5,598.4 173.8,594.2 188,590 202.3,585.8 216.6,581.8 230.9,577.8 245.2,573.9 259.4,570.1 273.7,566.3 288,562.7 302.3,559.2 316.6,555.8 330.8,552.5 345.1,549.4 359.4,546.4 373.7,543.5 388,540.7 402.3,538.1 416.5,535.7 430.8,533.4 445.1,531.3 459.4,529.3 473.7,527.6 487.9,526 502.2,524.6 516.5,523.4 530.8,522.4 545.1,521.6M59.5,643.7 72.5,640.4 85.4,637.1 98.4,633.8 111.3,630.5 124.3,627.3 137.3,624.1 150.2,620.9 163.2,617.7 176.1,614.6 189.1,611.6 202.1,608.6 215,605.7 228,602.8 240.9,600 253.9,597.3 266.9,594.6 279.8,592 292.8,589.5 305.7,587.1 318.7,584.8 331.7,582.6 344.6,580.5 357.6,578.4 370.5,576.5 383.5,574.8 396.4,573.1 409.4,571.6 422.4,570.1 435.3,568.9 448.3,567.7 461.2,566.7 474.2,565.9 487.2,565.2 500.1,564.6M59.5,655.2 71.1,652.8 82.7,650.4 94.4,648.1 106,645.7 117.6,643.4 129.2,641.1 140.8,638.9 152.5,636.6 164.1,634.4 175.7,632.2 187.3,630.1 198.9,628 210.6,626 222.2,624 233.8,622 245.4,620.1 257,618.3 268.7,616.5 280.3,614.8 291.9,613.2 303.5,611.6 315.1,610.1 326.8,608.7 338.4,607.3 350,606 361.6,604.9 373.3,603.8 384.9,602.8 396.5,601.9 408.1,601.1 419.7,600.4 431.4,599.8 443,599.3 454.6,599M59.5,664.3 69.7,662.7 80,661.1 90.2,659.5 100.5,657.9 110.7,656.4 120.9,654.8 131.2,653.3 141.4,651.8 151.6,650.3 161.9,648.8 172.1,647.3 182.4,645.9 192.6,644.6 202.8,643.2 213.1,641.9 223.3,640.6 233.5,639.4 243.8,638.2 254,637 264.3,635.9 274.5,634.8 284.7,633.8 295,632.9 305.2,632 315.5,631.1 325.7,630.3 335.9,629.6 346.2,628.9 356.4,628.3 366.6,627.8 376.9,627.3 387.1,627 397.4,626.6 407.6,626.4M59.5,671.2 68.3,670.2 77.1,669.1 86,668.1 94.8,667.1 103.6,666.1 112.4,665.1 121.2,664.2 130.1,663.2 138.9,662.3 147.7,661.3 156.5,660.4 165.4,659.5 174.2,658.6 183,657.8 191.8,656.9 200.6,656.1 209.5,655.3 218.3,654.6 227.1,653.8 235.9,653.1 244.7,652.4 253.6,651.8 262.4,651.2 271.2,650.6 280,650.1 288.8,649.6 297.7,649.1 306.5,648.7 315.3,648.3 324.1,648 333,647.7 341.8,647.5 350.6,647.3 359.4,647.1M59.5,676.3 66.9,675.7 74.4,675.1 81.8,674.5 89.2,673.9 96.7,673.3 104.1,672.7 111.5,672.2 118.9,671.6 126.4,671.1 133.8,670.5 141.2,670 148.7,669.5 156.1,669 163.5,668.5 171,668 178.4,667.5 185.8,667 193.2,666.6 200.7,666.2 208.1,665.8 215.5,665.4 223,665 230.4,664.7 237.8,664.3 245.3,664 252.7,663.8 260.1,663.5 267.5,663.3 275,663 282.4,662.9 289.8,662.7 297.3,662.6 304.7,662.5 312.1,662.4M59.5,679.6 65.4,679.3 71.4,679 77.3,678.7 83.3,678.4 89.2,678.1 95.2,677.8 101.1,677.5 107.1,677.2 113,676.9 118.9,676.7 124.9,676.4 130.8,676.1 136.8,675.9 142.7,675.6 148.7,675.4 154.6,675.1 160.6,674.9 166.5,674.7 172.4,674.4 178.4,674.2 184.3,674 190.3,673.8 196.2,673.7 202.2,673.5 208.1,673.3 214,673.2 220,673.1 225.9,672.9 231.9,672.8 237.8,672.7 243.8,672.6 249.7,672.6 255.7,672.5 261.6,672.5M59.5,682.3 63.2,682.2 67,682.2 70.7,682.1 74.5,682 78.2,681.9 81.9,681.9 85.7,681.8 89.4,681.7 93.2,681.7 96.9,681.6 100.7,681.5 104.4,681.5 108.1,681.4 111.9,681.3 115.6,681.3 119.4,681.2 123.1,681.2 126.8,681.1 130.6,681.1 134.3,681 138.1,681 141.8,680.9 145.5,680.9 149.3,680.8 153,680.8 156.8,680.8 160.5,680.7 164.2,680.7 168,680.7 171.7,680.7 175.5,680.6 179.2,680.6 183,680.6 186.7,680.6M59.5,682.8 62.4,682.7 65.2,682.7 68.1,682.7 70.9,682.6 73.8,682.6 76.6,682.6 79.5,682.5 82.3,682.5 85.2,682.5 88,682.4 90.9,682.4 93.7,682.4 96.6,682.3 99.4,682.3 102.3,682.3 105.1,682.3 108,682.2 110.8,682.2 113.7,682.2 116.5,682.2 119.4,682.1 122.2,682.1 125.1,682.1 127.9,682.1 130.8,682.1 133.6,682 136.5,682 139.3,682 142.2,682 145,682 147.9,682 150.7,682 153.6,682 156.4,682" stroke="#2A5A8E" stroke-width="1" fill="none"/>
<path d="M59.5,629.4 73.8,624.9 88.1,620.4 102.3,615.9 116.6,611.5 130.9,607.1 145.2,602.7 159.5,598.4 173.8,594.2 188,590 202.3,585.8 216.6,581.8 230.9,577.8 245.2,573.9 259.4,570.1 273.7,566.3 288,562.7 302.3,559.2 316.6,555.8 330.8,552.5 345.1,549.4 359.4,546.4 373.7,543.5 388,540.7 402.3,538.1 416.5,535.7 430.8,533.4 445.1,531.3 459.4,529.3 473.7,527.6 487.9,526 502.2,524.6 516.5,523.4 530.8,522.4 545.1,521.6M59.5,643.7 72.5,640.4 85.4,637.1 98.4,633.8 111.3,630.5 124.3,627.3 137.3,624.1 150.2,620.9 163.2,617.7 176.1,614.6 189.1,611.6 202.1,608.6 215,605.7 228,602.8 240.9,600 253.9,597.3 266.9,594.6 279.8,592 292.8,589.5 305.7,587.1 318.7,584.8 331.7,582.6 344.6,580.5 357.6,578.4 370.5,576.5 383.5,574.8 396.4,573.1 409.4,571.6 422.4,570.1 435.3,568.9 448.3,567.7 461.2,566.7 474.2,565.9 487.2,565.2 500.1,564.6M59.5,655.2 71.1,652.8 82.7,650.4 94.4,648.1 106,645.7 117.6,643.4 129.2,641.1 140.8,638.9 152.5,636.6 164.1,634.4 175.7,632.2 187.3,630.1 198.9,628 210.6,626 222.2,624 233.8,622 245.4,620.1 257,618.3 268.7,616.5 280.3,614.8 291.9,613.2 303.5,611.6 315.1,610.1 326.8,608.7 338.4,607.3 350,606 361.6,604.9 373.3,603.8 384.9,602.8 396.5,601.9 408.1,601.1 419.7,600.4 431.4,599.8 443,599.3 454.6,599M59.5,664.3 69.7,662.7 80,661.1 90.2,659.5 100.5,657.9 110.7,656.4 120.9,654.8 131.2,653.3 141.4,651.8 151.6,650.3 161.9,648.8 172.1,647.3 182.4,645.9 192.6,644.6 202.8,643.2 213.1,641.9 223.3,640.6 233.5,639.4 243.8,638.2 254,637 264.3,635.9 274.5,634.8 284.7,633.8 295,632.9 305.2,632 315.5,631.1 325.7,630.3 335.9,629.6 346.2,628.9 356.4,628.3 366.6,627.8 376.9,627.3 387.1,627 397.4,626.6 407.6,626.4M59.5,671.2 68.3,670.2 77.1,669.1 86,668.1 94.8,667.1 103.6,666.1 112.4,665.1 121.2,664.2 130.1,663.2 138.9,662.3 147.7,661.3 156.5,660.4 165.4,659.5 174.2,658.6 183,657.8 191.8,656.9 200.6,656.1 209.5,655.3 218.3,654.6 227.1,653.8 235.9,653.1 244.7,652.4 253.6,651.8 262.4,651.2 271.2,650.6 280,650.1 288.8,649.6 297.7,649.1 306.5,648.7 315.3,648.3 324.1,648 333,647.7 341.8,647.5 350.6,647.3 359.4,647.1M59.5,676.3 66.9,675.7 74.4,675.1 81.8,674.5 89.2,673.9 96.7,673.3 104.1,672.7 111.5,672.2 118.9,671.6 126.4,671.1 133.8,670.5 141.2,670 148.7,669.5 156.1,669 163.5,668.5 171,668 178.4,667.5 185.8,667 193.2,666.6 200.7,666.2 208.1,665.8 215.5,665.4 223,665 230.4,664.7 237.8,664.3 245.3,664 252.7,663.8 260.1,663.5 267.5,663.3 275,663 282.4,662.9 289.8,662.7 297.3,662.6 304.7,662.5 312.1,662.4M59.5,679.6 65.4,679.3 71.4,679 77.3,678.7 83.3,678.4 89.2,678.1 95.2,677.8 101.1,677.5 107.1,677.2 113,676.9 118.9,676.7 124.9,676.4 130.8,676.1 136.8,675.9 142.7,675.6 148.7,675.4 154.6,675.1 160.6,674.9 166.5,674.7 172.4,674.4 178.4,674.2 184.3,674 190.3,673.8 196.2,673.7 202.2,673.5 208.1,673.3 214,673.2 220,673.1 225.9,672.9 231.9,672.8 237.8,672.7 243.8,672.6 249.7,672.6 255.7,672.5 261.6,672.5M59.5,682.3 63.2,682.2 67,682.2 70.7,682.1 74.5,682 78.2,681.9 81.9,681.9 85.7,681.8 89.4,681.7 93.2,681.7 96.9,681.6 100.7,681.5 104.4,681.5 108.1,681.4 111.9,681.3 115.6,681.3 119.4,681.2 123.1,681.2 126.8,681.1 130.6,681.1 134.3,681 138.1,681 141.8,680.9 145.5,680.9 149.3,680.8 153,680.8 156.8,680.8 160.5,680.7 164.2,680.7 168,680.7 171.7,680.7 175.5,680.6 179.2,680.6 183,680.6 186.7,680.6M59.5,682.8 62.4,682.7 65.2,682.7 68.1,682.7 70.9,682.6 73.8,682.6 76.6,682.6 79.5,682.5 82.3,682.5 85.2,682.5 88,682.4 90.9,682.4 93.7,682.4 96.6,682.3 99.4,682.3 102.3,682.3 105.1,682.3 108,682.2 110.8,682.2 113.7,682.2 116.5,682.2 119.4,682.1 122.2,682.1 125.1,682.1 127.9,682.1 130.8,682.1 133.6,682 136.5,682 139.3,682 142.2,682 145,682 147.9,682 150.7,682 153.6,682 156.4,682" stroke="#1D5590" stroke-width="1.75" fill="none" clip-path="url(#cA)"/>
<path d="M59.5,642.6 73.8,638 88.1,633.4 102.3,628.9 116.6,624.5 130.9,620.2 145.2,615.9 159.5,611.8 173.8,607.7 188,603.8 202.3,599.9 216.6,596.2 230.9,592.5 245.2,589 259.4,585.5 273.7,582.2 288,579 302.3,575.9 316.6,572.9 330.8,570 345.1,567.2 359.4,564.6 373.7,562.1 388,559.7 402.3,557.5 416.5,555.4 430.8,553.4 445.1,551.5 459.4,549.8 473.7,548.3 487.9,546.9 502.2,545.6 516.5,544.5 530.8,543.5 545.1,542.7M59.5,655.4 72.5,652 85.4,648.6 98.4,645.3 111.3,642 124.3,638.8 137.3,635.7 150.2,632.7 163.2,629.7 176.1,626.8 189.1,623.9 202.1,621.2 215,618.5 228,615.8 240.9,613.3 253.9,610.9 266.9,608.5 279.8,606.2 292.8,604 305.7,601.9 318.7,599.9 331.7,598 344.6,596.1 357.6,594.4 370.5,592.7 383.5,591.2 396.4,589.7 409.4,588.4 422.4,587.2 435.3,586 448.3,585 461.2,584.1 474.2,583.3 487.2,582.6 500.1,582M59.5,665.6 71.1,663.1 82.7,660.7 94.4,658.4 106,656 117.6,653.8 129.2,651.5 140.8,649.4 152.5,647.2 164.1,645.2 175.7,643.1 187.3,641.2 198.9,639.2 210.6,637.4 222.2,635.6 233.8,633.8 245.4,632.1 257,630.5 268.7,629 280.3,627.5 291.9,626 303.5,624.7 315.1,623.4 326.8,622.1 338.4,621 350,619.9 361.6,618.8 373.3,617.9 384.9,617 396.5,616.2 408.1,615.5 419.7,614.9 431.4,614.3 443,613.8 454.6,613.4M59.5,673.7 69.7,672.1 80,670.4 90.2,668.8 100.5,667.3 110.7,665.7 120.9,664.2 131.2,662.7 141.4,661.3 151.6,659.9 161.9,658.5 172.1,657.2 182.4,655.9 192.6,654.6 202.8,653.4 213.1,652.2 223.3,651.1 233.5,650 243.8,649 254,647.9 264.3,647 274.5,646.1 284.7,645.2 295,644.4 305.2,643.6 315.5,642.8 325.7,642.1 335.9,641.5 346.2,640.9 356.4,640.4 366.6,639.9 376.9,639.5 387.1,639.1 397.4,638.8 407.6,638.5M59.5,679.8 68.3,678.8 77.1,677.8 86,676.7 94.8,675.7 103.6,674.8 112.4,673.8 121.2,672.9 130.1,671.9 138.9,671.1 147.7,670.2 156.5,669.3 165.4,668.5 174.2,667.7 183,666.9 191.8,666.2 200.6,665.5 209.5,664.8 218.3,664.1 227.1,663.5 235.9,662.8 244.7,662.3 253.6,661.7 262.4,661.2 271.2,660.7 280,660.2 288.8,659.8 297.7,659.4 306.5,659 315.3,658.7 324.1,658.4 333,658.1 341.8,657.9 350.6,657.7 359.4,657.5M59.5,684.4 66.9,683.8 74.4,683.2 81.8,682.6 89.2,682 96.7,681.4 104.1,680.8 111.5,680.3 118.9,679.8 126.4,679.3 133.8,678.7 141.2,678.3 148.7,677.8 156.1,677.3 163.5,676.9 171,676.4 178.4,676 185.8,675.6 193.2,675.2 200.7,674.9 208.1,674.5 215.5,674.2 223,673.8 230.4,673.5 237.8,673.3 245.3,673 252.7,672.7 260.1,672.5 267.5,672.3 275,672.1 282.4,672 289.8,671.8 297.3,671.7 304.7,671.6 312.1,671.5M59.5,687.4 65.4,687 71.4,686.7 77.3,686.4 83.3,686.1 89.2,685.8 95.2,685.5 101.1,685.3 107.1,685 113,684.7 118.9,684.5 124.9,684.2 130.8,684 136.8,683.7 142.7,683.5 148.7,683.3 154.6,683.1 160.6,682.9 166.5,682.7 172.4,682.5 178.4,682.3 184.3,682.1 190.3,681.9 196.2,681.8 202.2,681.6 208.1,681.5 214,681.4 220,681.3 225.9,681.2 231.9,681.1 237.8,681 243.8,680.9 249.7,680.8 255.7,680.8 261.6,680.7M59.5,689.8 63.2,689.7 67,689.6 70.7,689.5 74.5,689.5 78.2,689.4 81.9,689.3 85.7,689.2 89.4,689.2 93.2,689.1 96.9,689.1 100.7,689 104.4,688.9 108.1,688.9 111.9,688.8 115.6,688.8 119.4,688.7 123.1,688.7 126.8,688.6 130.6,688.6 134.3,688.5 138.1,688.5 141.8,688.5 145.5,688.4 149.3,688.4 153,688.4 156.8,688.3 160.5,688.3 164.2,688.3 168,688.2 171.7,688.2 175.5,688.2 179.2,688.2 183,688.2 186.7,688.2M59.5,690.2 62.4,690.1 65.2,690.1 68.1,690 70.9,690 73.8,690 76.6,690 79.5,689.9 82.3,689.9 85.2,689.9 88,689.8 90.9,689.8 93.7,689.8 96.6,689.7 99.4,689.7 102.3,689.7 105.1,689.7 108,689.7 110.8,689.6 113.7,689.6 116.5,689.6 119.4,689.6 122.2,689.6 125.1,689.5 127.9,689.5 130.8,689.5 133.6,689.5 136.5,689.5 139.3,689.5 142.2,689.5 145,689.4 147.9,689.4 150.7,689.4 153.6,689.4 156.4,689.4" stroke="#2A5A8E" stroke-width="1" fill="none"/>
<path d="M59.5,659.9 66.6,657.7 73.7,655.4 80.9,653.2 88,651 95.1,648.8 102.2,646.6 109.3,644.5 116.5,642.4 123.6,640.3 130.7,638.2 137.8,636.2 144.9,634.2 152,632.3 159.2,630.4 166.3,628.5 173.4,626.7 180.5,624.9 187.6,623.2 194.8,621.6 201.9,620 209,618.5 216.1,617.1 223.2,615.7 230.4,614.4 237.5,613.2 244.6,612 251.7,611 258.8,610 266,609.1 273.1,608.3 280.2,607.6 287.3,607 294.4,606.5 301.6,606.1M59.5,666.6 66.6,664.2 73.7,662 80.9,659.7 88,657.5 95.1,655.4 102.2,653.3 109.3,651.2 116.5,649.2 123.6,647.2 130.7,645.3 137.8,643.4 144.9,641.6 152,639.8 159.2,638.1 166.3,636.4 173.4,634.8 180.5,633.3 187.6,631.8 194.8,630.3 201.9,629 209,627.6 216.1,626.4 223.2,625.2 230.4,624.1 237.5,623 244.6,622 251.7,621.1 258.8,620.2 266,619.5 273.1,618.7 280.2,618.1 287.3,617.5 294.4,617 301.6,616.6" stroke="#FF00FF" stroke-width="1" fill="none"/>
<path d="M59.5,659.9 66.6,657.7 73.7,655.4 80.9,653.2 88,651 95.1,648.8 102.2,646.6 109.3,644.5 116.5,642.4 123.6,640.3 130.7,638.2 137.8,636.2 144.9,634.2 152,632.3 159.2,630.4 166.3,628.5 173.4,626.7 180.5,624.9 187.6,623.2 194.8,621.6 201.9,620 209,618.5 216.1,617.1 223.2,615.7 230.4,614.4 237.5,613.2 244.6,612 251.7,611 258.8,610 266,609.1 273.1,608.3 280.2,607.6 287.3,607 294.4,606.5 301.6,606.1" stroke="#FF00FF" stroke-width="1.7" fill="none" clip-path="url(#cB)"/>
<path d="M59.5,676.9 66.6,676.3 73.7,675.7 80.9,675.1 88,674.3 95.1,673.6 102.2,672.7 109.3,671.8 116.5,670.9 123.6,669.8 130.7,668.7 137.8,667.5 144.9,666.3 152,664.9 159.2,663.4 166.3,661.9 173.4,660.3 180.5,658.5 187.6,656.7 194.8,654.8 201.9,652.7 209,650.6 216.1,648.3 223.2,645.9 230.4,643.4 237.5,640.8 244.6,638 251.7,635.1 258.8,632.1 266,628.9 273.1,625.6 280.2,622.2 287.3,618.6 294.4,614.8 301.6,610.9" stroke="#111" stroke-width="1.1" fill="none"/>
<path d="M59.5,0V437.5M59.5,458.5V690.5" stroke="#858585" stroke-width="1.4"/>
<path d="M59.5,0.5H593.5M59.5,458.5H593.5" stroke="#999"/>
<path d="M593.9,0V437.5M593.9,458.5V690.5" stroke="#5a5a5a" stroke-width="1.3"/>
<path d="M55,437.5H598" stroke="#111"/>
<path d="M55,690.5H598" stroke="#999"/>
<path d="M55,437.5H59.5M55,388.9H59.5M55,340.3H59.5M55,291.7H59.5M55,243.1H59.5M55,194.4H59.5M55,145.8H59.5M55,97.2H59.5M593.5,437.5H598M593.5,388.9H598M593.5,340.3H598M593.5,291.7H598M593.5,243.1H598M593.5,194.4H598M593.5,145.8H598M593.5,97.2H598M593.5,48.6H598M55,690.5H59.5M593.5,690.5H598M55,651.8H59.5M593.5,651.8H598M55,613.2H59.5M593.5,613.2H598M55,574.5H59.5M593.5,574.5H598M55,535.8H59.5M593.5,535.8H598M55,497.2H59.5M593.5,497.2H598M59.5,437.5V442M118.2,437.5V442M177,437.5V442M235.8,437.5V442M294.5,437.5V442M353.2,437.5V442M412,437.5V442M470.8,437.5V442M529.5,437.5V442M588.2,437.5V442" stroke="#888"/>
<text x="50" y="441.5" text-anchor="end">0</text>
<text x="50" y="392.9" text-anchor="end">5</text>
<text x="50" y="344.3" text-anchor="end">10</text>
<text x="50" y="295.7" text-anchor="end">15</text>
<text x="50" y="247.1" text-anchor="end">20</text>
<text x="50" y="198.4" text-anchor="end">25</text>
<text x="50" y="149.8" text-anchor="end">30</text>
<text x="50" y="101.2" text-anchor="end">35</text>
<text x="601.5" y="441.5">0</text>
<text x="601.5" y="392.9">10</text>
<text x="601.5" y="344.3">20</text>
<text x="601.5" y="295.7">30</text>
<text x="601.5" y="247.1">40</text>
<text x="601.5" y="198.4">50</text>
<text x="601.5" y="149.8">60</text>
<text x="601.5" y="101.2">70</text>
<text x="601.5" y="52.6">80</text>
<text x="59.5" y="453.5" text-anchor="middle">0</text>
<text x="118.2" y="453.5" text-anchor="middle">2</text>
<text x="177" y="453.5" text-anchor="middle">4</text>
<text x="235.8" y="453.5" text-anchor="middle">6</text>
<text x="294.5" y="453.5" text-anchor="middle">8</text>
<text x="353.2" y="453.5" text-anchor="middle">10</text>
<text x="412" y="453.5" text-anchor="middle">12</text>
<text x="470.8" y="453.5" text-anchor="middle">14</text>
<text x="529.5" y="453.5" text-anchor="middle">16</text>
<text x="549.2" y="453.5" textLength="35" lengthAdjust="spacingAndGlyphs">Q [м³/ч]</text>
<text x="50.5" y="694.5" text-anchor="end">0.0</text>
<text x="50.5" y="655.8" text-anchor="end">0.5</text>
<text x="50.5" y="617.2" text-anchor="end">1.0</text>
<text x="50.5" y="578.5" text-anchor="end">1.5</text>
<text x="50.5" y="539.8" text-anchor="end">2.0</text>
<text x="50.5" y="501.2" text-anchor="end">2.5</text>
<text x="601.5" y="694.5">0</text>
<text x="601.5" y="655.8">5</text>
<text x="601.5" y="617.2">10</text>
<text x="601.5" y="578.5">15</text>
<text x="601.5" y="539.8">20</text>
<text x="601.5" y="501.2">25</text>
<text x="36" y="9" text-anchor="middle">H</text>
<text x="36" y="22.5" text-anchor="middle">[м]</text>
<text x="617.5" y="8.7" text-anchor="middle">eta</text>
<text x="617.5" y="22.5" text-anchor="middle">[%]</text>
<text x="29" y="466.7" text-anchor="middle">P</text>
<text x="29.4" y="480.5" text-anchor="middle">[кВт]</text>
<text x="625.3" y="467.1" text-anchor="middle">NPSH</text>
<text x="625.5" y="480.5" text-anchor="middle">[м]</text>
<text x="88.2" y="107.3">100 %</text>
<text x="88.2" y="168.7">90 %</text>
<text x="88.2" y="223.5">80 %</text>
<text x="88.2" y="272.2">70 %</text>
<text x="88.2" y="314.6">60 %</text>
<text x="88.2" y="351.4">50 %</text>
<text x="88.2" y="380.7">40 %</text>
<text x="88.2" y="413.6">25 %</text>
<text x="88.2" y="421.7">19 %</text>
<text x="378.7" y="518.8" style="fill:#3A659C" textLength="155" lengthAdjust="spacingAndGlyphs">P1 (двиг.+преобр-ль частоты)</text>
<text x="528.3" y="555.2" style="fill:#3A659C">P2</text>
<rect x="423.5" y="0.5" width="170" height="17.5" fill="#fff" stroke="#888"/>
<text x="427.3" y="13.7">2 x CMBE TWIN 5-31, 1*230 V</text>
</svg>
</body></html>
